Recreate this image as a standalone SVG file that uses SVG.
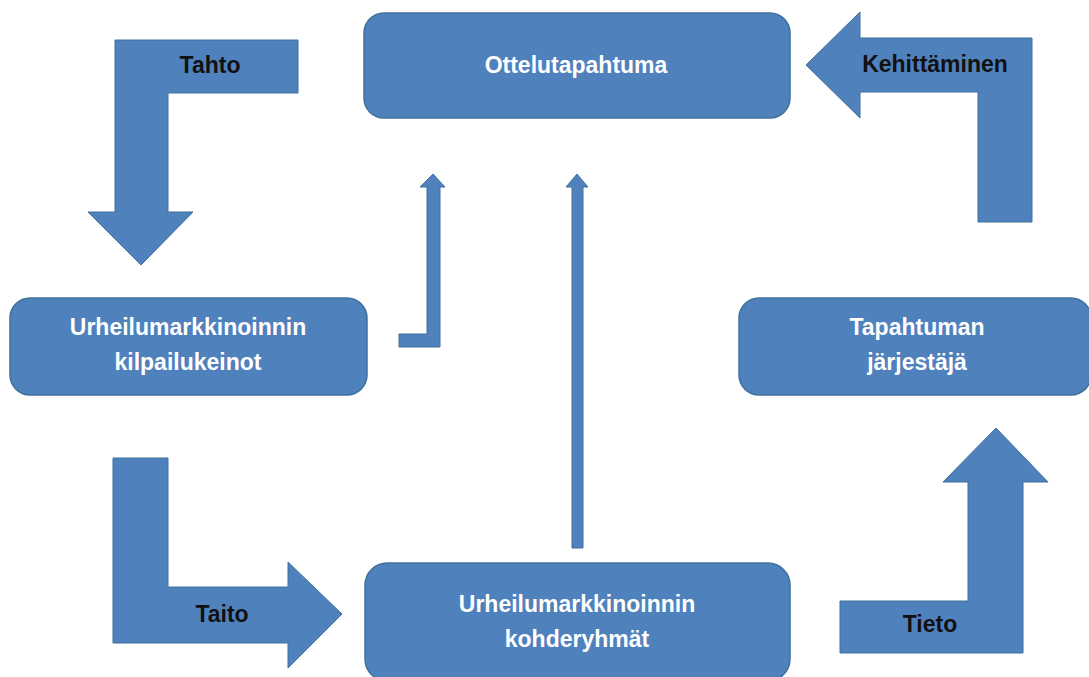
<svg xmlns="http://www.w3.org/2000/svg" width="1089" height="677" viewBox="0 0 1089 677">
  <style>
    .box { fill: #4F81BD; stroke: #41719C; stroke-width: 1.5; }
    .arrow { fill: #4F81BD; stroke: #41719C; stroke-width: 1; }
    .ntext { font-family: "Liberation Sans", Arial, sans-serif; font-weight: bold; font-size: 23px; fill: #FFFFFF; text-anchor: middle; }
    .atext { font-family: "Liberation Sans", Arial, sans-serif; font-weight: bold; font-size: 23px; fill: #111111; text-anchor: middle; }
  </style>
  <rect width="1089" height="677" fill="#FFFFFF"/>

  <!-- connectors: block arrows between the boxes -->
  <g id="connectors">
    <!-- Tahto: bent arrow pointing down -->
    <g id="arrow-tahto">
      <path class="arrow" d="M115,40 H298 V93 H168 V212 H193 L141,265 L88,212 H115 Z"/>
      <text class="atext" x="210" y="73">Tahto</text>
    </g>
    <!-- Kehittäminen: bent arrow pointing left -->
    <g id="arrow-kehittaminen">
      <path class="arrow" d="M1032,222 H978 V92 H860 V118 L806,65 L860,12 V38 H1032 Z"/>
      <text class="atext" x="935" y="72">Kehittäminen</text>
    </g>
    <!-- thin elbow arrow up from the left box -->
    <path id="arrow-thin-elbow" class="arrow" d="M399,347 H440 V187 H445 L433,174 L420,187 H427 V334 H399 Z"/>
    <!-- thin straight arrow up from the bottom box -->
    <path id="arrow-thin-straight" class="arrow" d="M572,548 H583 V187 H588 L577,174 L566,187 H572 Z"/>
    <!-- Taito: bent arrow pointing right -->
    <g id="arrow-taito">
      <path class="arrow" d="M113,458 H168 V587 H288 V562 L342,614 L288,668 V643 H113 Z"/>
      <text class="atext" x="222" y="622">Taito</text>
    </g>
    <!-- Tieto: bent arrow pointing up -->
    <g id="arrow-tieto">
      <path class="arrow" d="M840,653 H1023 V482 H1048 L996,428 L943,482 H968 V601 H840 Z"/>
      <text class="atext" x="930" y="632">Tieto</text>
    </g>
  </g>

  <g id="node-ottelutapahtuma">
    <rect class="box" x="364" y="13" width="426" height="105" rx="20" ry="20"/>
    <text class="ntext" x="576" y="73">Ottelutapahtuma</text>
  </g>

  <g id="node-kilpailukeinot">
    <rect class="box" x="10" y="298" width="357" height="97" rx="20" ry="20"/>
    <text class="ntext" x="188" y="335">Urheilumarkkinoinnin</text>
    <text class="ntext" x="188" y="370">kilpailukeinot</text>
  </g>

  <g id="node-jarjestaja">
    <rect class="box" x="739" y="298" width="352" height="97" rx="20" ry="20"/>
    <text class="ntext" x="917" y="335">Tapahtuman</text>
    <text class="ntext" x="917" y="370">järjestäjä</text>
  </g>

  <g id="node-kohderyhmat">
    <rect class="box" x="365" y="563" width="425" height="118" rx="22" ry="22"/>
    <text class="ntext" x="577" y="612">Urheilumarkkinoinnin</text>
    <text class="ntext" x="577" y="647">kohderyhmät</text>
  </g>
</svg>
